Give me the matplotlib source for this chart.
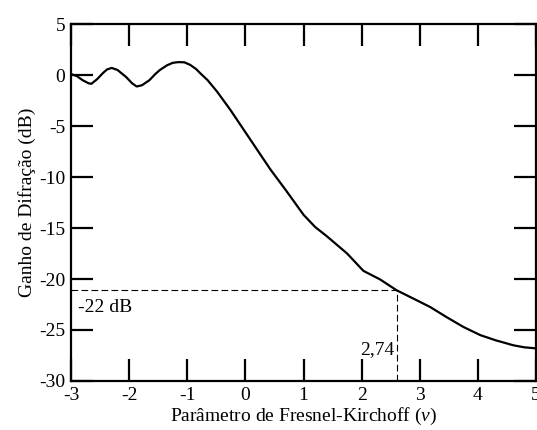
import matplotlib
matplotlib.use("Agg")
import matplotlib.pyplot as plt

# Ganho de difração (knife-edge)
v = [-3.0, -2.9, -2.8, -2.7, -2.65, -2.55, -2.45, -2.38, -2.3, -2.2, -2.05, -1.95,
     -1.87, -1.78, -1.65, -1.55, -1.47, -1.35, -1.25, -1.15, -1.05, -0.95, -0.85,
     -0.78, -0.65, -0.49, -0.26, -0.03, 0.2, 0.43, 0.71, 1.0, 1.2, 1.4, 1.75, 2.03,
     2.32, 2.6, 2.9, 3.18, 3.45, 3.75, 4.04, 4.3, 4.61, 4.8, 5.0]
ganho = [0.1, -0.1, -0.5, -0.8, -0.86, -0.4, 0.2, 0.55, 0.7, 0.5, -0.2, -0.8,
         -1.12, -1.0, -0.5, 0.1, 0.5, 0.95, 1.2, 1.27, 1.25, 1.0, 0.6,
         0.2, -0.5, -1.6, -3.4, -5.35, -7.3, -9.25, -11.4, -13.7, -14.9, -15.8, -17.5, -19.2,
         -20.05, -21.1, -21.95, -22.75, -23.7, -24.7, -25.5, -26.0, -26.5, -26.7, -26.8]

v_marca = 2.61
g_marca = -21.1

plt.rcParams['font.family'] = ['Liberation Serif', 'DejaVu Serif']
plt.rcParams['axes.unicode_minus'] = False
plt.rcParams['mathtext.fontset'] = 'custom'
plt.rcParams['mathtext.it'] = 'Liberation Serif:italic'
plt.rcParams['mathtext.rm'] = 'Liberation Serif'

fig = plt.figure(figsize=(5.37, 4.3), dpi=100)
ax = fig.add_axes([0.1322, 0.114, 0.866, 0.830])

ax.plot(v, ganho, color='black', lw=1.6, solid_joinstyle='round')

# linhas tracejadas de leitura
ax.plot([-3, v_marca], [g_marca, g_marca], color='black', lw=0.8, ls=(0, (6, 3)))
ax.plot([v_marca, v_marca], [-30, g_marca], color='black', lw=0.8, ls=(0, (6, 3)))
ax.text(-2.88, g_marca - 0.9, '-22 dB', fontsize=14, va='top', ha='left')
ax.text(v_marca - 0.04, -26.9, '2,74', fontsize=14, va='center', ha='right')

ax.set_xlim(-3, 5)
ax.set_ylim(-30, 5)
ax.set_xticks(range(-3, 6))
ax.set_yticks(range(-30, 6, 5))

ax.tick_params(direction='in', length=16, width=1.6, labelsize=14,
               top=True, right=True, pad=4)
for s in ax.spines.values():
    s.set_linewidth(1.6)

ax.set_xlabel('Parâmetro de Fresnel-Kirchoff ($\\mathit{v}$)', fontsize=14, labelpad=2)
ax.set_ylabel('Ganho de Difração (dB)', fontsize=14, labelpad=2)

fig.savefig('out.png', dpi=100)
